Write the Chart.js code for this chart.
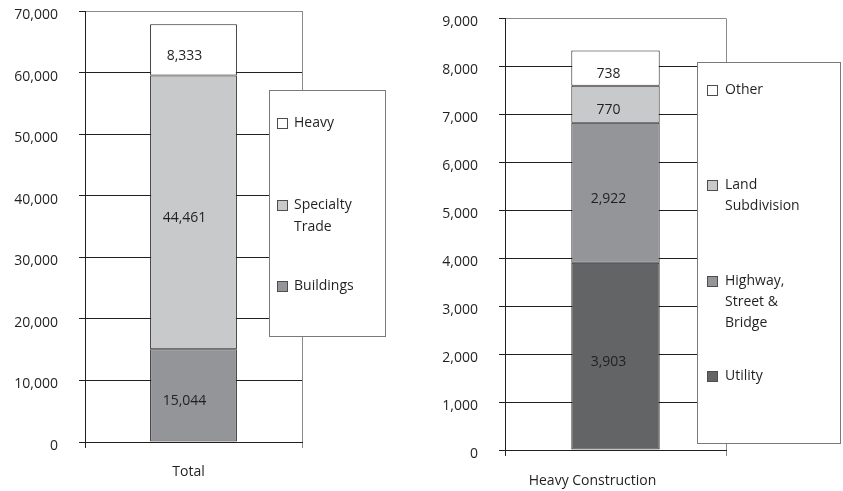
<!DOCTYPE html>
<html>
<head>
<meta charset="utf-8">
<script src="https://cdn.jsdelivr.net/npm/chart.js@4.4.1/dist/chart.umd.min.js"></script>
<style>
  body { margin: 0; background: #fff; }
  #wrap { position: relative; width: 843px; height: 491px; }
  canvas { position: absolute; top: 0; }
</style>
</head>
<body>
<div id="wrap">
  <canvas id="totalChart" width="420" height="491" style="left:0"></canvas>
  <canvas id="heavyChart" width="423" height="491" style="left:420px"></canvas>
</div>
<script>
// Construction totals by sector
const totalCategories = ['Total'];
const totalSeries = ['Buildings', 'Specialty\nTrade', 'Heavy'];
const totalValues = [15044, 44461, 8333];
const totalColors = ['#939598', '#c8c9cb', '#ffffff'];
const totalMax = 70000;
const totalStep = 10000;

// Heavy construction breakdown
const heavyCategories = ['Heavy Construction'];
const heavySeries = ['Utility', 'Highway,\nStreet &\nBridge', 'Land\nSubdivision', 'Other'];
const heavyValues = [3903, 2922, 770, 738];
const heavyColors = ['#636466', '#939598', '#c8c9cb', '#ffffff'];
const heavyMax = 9000;
const heavyStep = 1000;

const INK = '#231f20';
const GREY = '#8a8a8a';
const FONT = { family: '"Open Sans", sans-serif', size: 14 };

// value printed in the middle of each stacked segment
const segmentLabels = {
  id: 'segmentLabels',
  afterDatasetsDraw(chart, args, opts) {
    const ctx = chart.ctx;
    ctx.save();
    ctx.font = FONT.size + 'px ' + FONT.family;
    ctx.fillStyle = INK;
    ctx.textAlign = 'center';
    ctx.textBaseline = 'middle';
    chart.data.datasets.forEach((ds, i) => {
      chart.getDatasetMeta(i).data.forEach((bar, j) => {
        const v = ds.data[j];
        ctx.fillText(v.toLocaleString('en-US'), bar.x + opts.dx, (bar.y + bar.base) / 2 + opts.dy);
      });
    });
    ctx.restore();
  }
};

// boxed legend sitting over the right side of the plot
const boxLegend = {
  id: 'boxLegend',
  afterDraw(chart, args, o) {
    const ctx = chart.ctx;
    ctx.save();
    ctx.fillStyle = '#fff';
    ctx.fillRect(o.left, o.top, o.right - o.left, o.bottom - o.top);
    ctx.strokeStyle = '#7a7a7a';
    ctx.lineWidth = 1;
    ctx.strokeRect(o.left + 0.5, o.top + 0.5, o.right - o.left, o.bottom - o.top);
    ctx.font = FONT.size + 'px ' + FONT.family;
    ctx.textBaseline = 'middle';
    const sets = chart.data.datasets.slice().reverse();
    sets.forEach((ds, i) => {
      const y = Math.round(o.top + o.firstY + i * o.spacing);
      ctx.fillStyle = ds.backgroundColor;
      ctx.fillRect(o.left + o.boxX, y - 5, 11, 11);
      ctx.strokeStyle = '#4d4d4d';
      ctx.strokeRect(o.left + o.boxX + 0.5, y - 4.5, 10, 10);
      ctx.fillStyle = INK;
      ds.label.split('\n').forEach((line, k) => {
        ctx.fillText(line, o.left + o.textX, y + k * o.lineHeight);
      });
    });
    ctx.restore();
  }
};

function makeDatasets(series, values, colors) {
  return series.map((name, i) => ({
    label: name,
    data: [values[i]],
    backgroundColor: colors[i],
    borderColor: INK,
    borderWidth: 1,
    borderSkipped: false,
    barPercentage: 0.4,
    categoryPercentage: 1
  }));
}

function makeScales(max, step, xHeight, xPad, xShift) {
  return {
    x: {
      stacked: true,
      offset: true,
      grid: {
        offset: true,
        color: c => c.type === 'tick' ? INK : GREY,
        tickLength: 6
      },
      border: { color: INK },
      ticks: { font: FONT, color: INK, padding: xPad, labelOffset: xShift },
      afterFit: s => { s.height = xHeight; }
    },
    y: {
      stacked: true,
      min: 0,
      max: max,
      ticks: {
        stepSize: step,
        font: FONT,
        color: INK,
        padding: 21,
        labelOffset: 4,
        callback: v => v.toLocaleString('en-US')
      },
      grid: {
        color: c => c.tick && c.tick.value === max ? GREY : INK,
        tickColor: INK,
        tickLength: 6
      },
      border: { color: INK },
      afterFit: s => {
        s.width = 85;
        s.paddingTop = 8;
        s.paddingBottom = 8;
      }
    }
  };
}

new Chart(document.getElementById('totalChart'), {
  type: 'bar',
  data: {
    labels: totalCategories,
    datasets: makeDatasets(totalSeries, totalValues, totalColors)
  },
  options: {
    responsive: false,
    animation: false,
    layout: { padding: { top: 11, right: 118, bottom: 0, left: 0 } },
    scales: makeScales(totalMax, totalStep, 49, 16, -5),
    plugins: {
      legend: { display: false },
      tooltip: { enabled: false },
      segmentLabels: { dx: -9, dy: 6 },
      boxLegend: {
        left: 269, top: 90, right: 385, bottom: 336,
        firstY: 33, spacing: 81.5, boxX: 8, textX: 25, lineHeight: 22
      }
    }
  },
  plugins: [segmentLabels, boxLegend]
});

new Chart(document.getElementById('heavyChart'), {
  type: 'bar',
  data: {
    labels: heavyCategories,
    datasets: makeDatasets(heavySeries, heavyValues, heavyColors)
  },
  options: {
    responsive: false,
    animation: false,
    layout: { padding: { top: 18.5, right: 117, bottom: 0, left: 0 } },
    scales: makeScales(heavyMax, heavyStep, 41, 17, -23),
    plugins: {
      legend: { display: false },
      tooltip: { enabled: false },
      segmentLabels: { dx: -7, dy: 6 },
      boxLegend: {
        left: 277, top: 62, right: 420, bottom: 443,
        firstY: 28, spacing: 95.3, boxX: 10, textX: 28, lineHeight: 21
      }
    }
  },
  plugins: [segmentLabels, boxLegend]
});
</script>
</body>
</html>
